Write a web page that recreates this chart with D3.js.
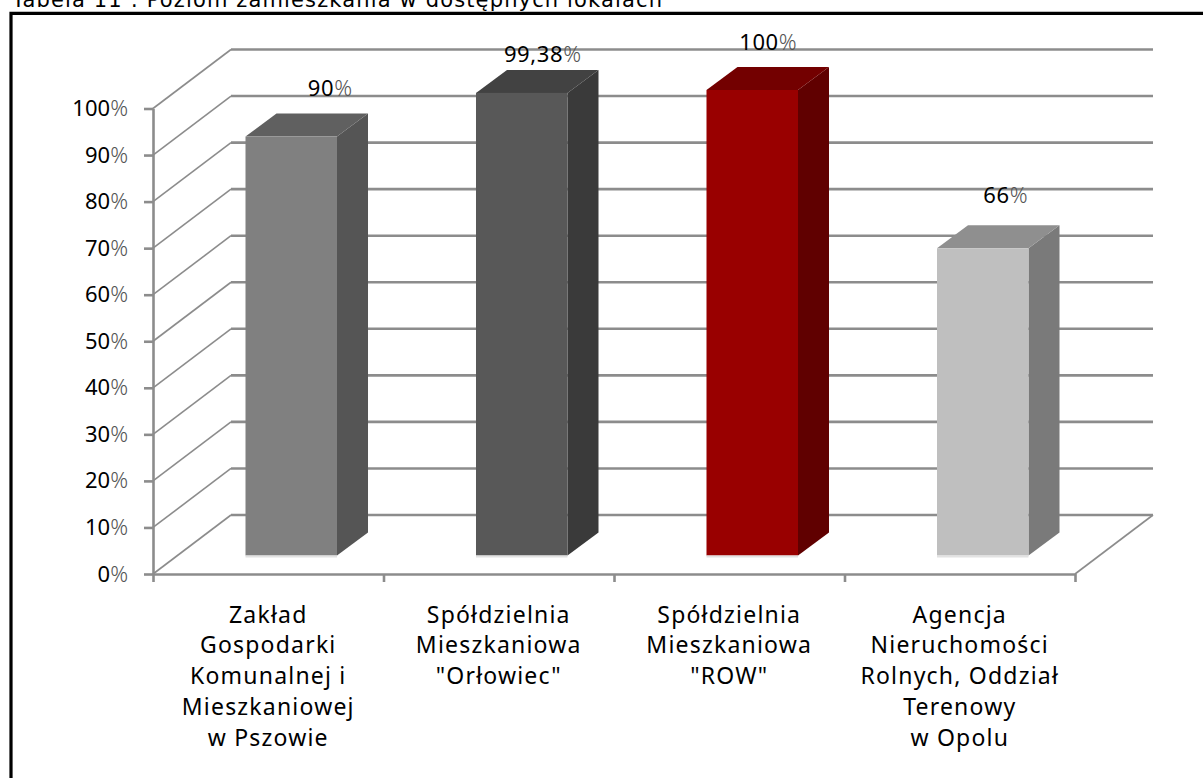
<!DOCTYPE html>
<html>
<head>
<meta charset="utf-8">
<script src="https://cdnjs.cloudflare.com/ajax/libs/d3/7.8.5/d3.min.js"></script>
<style>
  html, body { margin: 0; padding: 0; background: #fff; overflow: hidden; }
  text { font-family: "Noto Sans", sans-serif; fill: #000; }
</style>
</head>
<body>
<div id="chart"></div>
<script>
// values
const categories = [
  ["Zakład", "Gospodarki", "Komunalnej i", "Mieszkaniowej", "w Pszowie"],
  ["Spółdzielnia", "Mieszkaniowa", "\"Orłowiec\""],
  ["Spółdzielnia", "Mieszkaniowa", "\"ROW\""],
  ["Agencja", "Nieruchomości", "Rolnych, Oddział", "Terenowy", "w Opolu"]
];
const values = [90, 99.38, 100, 66];
const valueLabels = ["90", "99,38", "100", "66"];
const frontColors = ["#808080", "#585858", "#990000", "#bfbfbf"];
const topColors = ["#606060", "#424242", "#730000", "#8f8f8f"];
const sideColors = ["#555555", "#3a3a3a", "#600000", "#7a7a7a"];
const yTicks = [0, 10, 20, 30, 40, 50, 60, 70, 80, 90, 100];
const titleText = "Tabela 11 : Poziom zamieszkania w dostępnych lokalach";

const chartWidth = 1203, chartHeight = 778;
const plotLeft = 153, plotRight = 1075, plotBottom = 574, plotTop = 108.5;
// depth of the 3d box: wall offset and bar offset
const depthX = 78, depthY = 59;
const barShiftX = 23, barShiftY = 18.5, barDepthX = 31, barDepthY = 23;
const gridColor = "#8c8c8c";
const labelFont = 22;
// the value labels were moved by hand in the original, so each has its own shift
const labelShiftX = [39, 21, 16, 23];
const labelShiftY = [-41, -31, -40, -45];

const svg = d3.select("#chart").append("svg")
  .attr("width", chartWidth)
  .attr("height", chartHeight)
  .style("display", "block");

// outer frame, runs off the right and bottom of the picture
svg.append("path")
  .attr("d", "M11," + (chartHeight + 5) + "V13.4H" + (chartWidth + 5))
  .attr("fill", "none")
  .attr("stroke", "#000")
  .attr("stroke-width", 3.2);

svg.append("text")
  .attr("x", 12)
  .attr("y", 6.5)
  .attr("font-size", 21)
  .attr("textLength", 650)
  .attr("lengthAdjust", "spacing")
  .style("font-family", "'DejaVu Sans'")
  .text(titleText);

const x = d3.scaleBand()
  .domain(d3.range(categories.length))
  .range([plotLeft, plotRight])
  .paddingInner(0.603)
  .paddingOuter(0.3015);

const y = d3.scaleLinear()
  .domain([0, 100])
  .range([plotBottom, plotTop]);

// gridlines on the left wall (thin) and the back wall (heavier)
const grid = svg.append("g")
  .attr("fill", "none")
  .attr("stroke", gridColor);

grid.selectAll(".side")
  .data(yTicks)
  .enter()
  .append("path")
  .attr("class", "side")
  .attr("stroke-width", 1.6)
  .attr("d", d => "M" + plotLeft + "," + y(d) + "l" + depthX + "," + (-depthY));

grid.selectAll(".back")
  .data(yTicks)
  .enter()
  .append("path")
  .attr("class", "back")
  .attr("stroke-width", 2.6)
  .attr("d", d => "M" + (plotLeft + depthX) + "," + (y(d) - depthY) + "H" + (plotRight + depthX));

// floor edge on the right
grid.append("path")
  .attr("stroke-width", 1.6)
  .attr("d", "M" + plotRight + "," + plotBottom + "L" + (plotRight + depthX) + "," + (plotBottom - depthY));

// axes
const yAxis = d3.axisLeft(y)
  .tickValues(yTicks)
  .tickSize(9)
  .tickSizeOuter(0)
  .tickFormat("");

const yGroup = svg.append("g")
  .attr("transform", "translate(" + plotLeft + ",0)")
  .call(yAxis);

const xAxis = d3.axisBottom(d3.scaleLinear().domain([0, categories.length]).range([plotLeft, plotRight]))
  .ticks(categories.length)
  .tickSize(8)
  .tickSizeOuter(0)
  .tickFormat("");

const xGroup = svg.append("g")
  .attr("transform", "translate(0," + plotBottom + ")")
  .call(xAxis);

svg.selectAll(".domain, .tick line")
  .attr("stroke", gridColor)
  .attr("stroke-width", 2.6);

// number in black, percent sign thin and grey like the original
function percentText(sel, number) {
  sel.append("tspan").text(number);
  sel.append("tspan").style("fill", "#555").attr("font-weight", 300).text("%");
}

yGroup.selectAll(".tick")
  .append("text")
  .attr("x", -25)
  .attr("dy", "0.32em")
  .attr("text-anchor", "end")
  .attr("font-size", labelFont)
  .each(function(d) { percentText(d3.select(this), d); });

// bars, side and top first
const bars = svg.selectAll(".bar")
  .data(values)
  .enter()
  .append("g")
  .attr("class", "bar")
  .attr("transform", "translate(" + barShiftX + "," + (-barShiftY) + ")");

bars.append("path")
  .attr("fill", (d, i) => sideColors[i])
  .attr("d", (d, i) => {
    const x1 = x(i) + x.bandwidth();
    return "M" + x1 + "," + y(d) + "l" + barDepthX + "," + (-barDepthY) + "V" + (plotBottom - barDepthY) + "l" + (-barDepthX) + "," + barDepthY + "Z";
  });

bars.append("path")
  .attr("fill", (d, i) => topColors[i])
  .attr("d", (d, i) => "M" + x(i) + "," + y(d) + "l" + barDepthX + "," + (-barDepthY) + "h" + x.bandwidth() + "l" + (-barDepthX) + "," + barDepthY + "Z");

bars.append("rect")
  .attr("x", (d, i) => x(i))
  .attr("y", d => y(d))
  .attr("width", x.bandwidth())
  .attr("height", d => plotBottom - y(d))
  .attr("fill", (d, i) => frontColors[i]);

// pale strip along the foot of each bar
bars.append("rect")
  .attr("x", (d, i) => x(i))
  .attr("y", plotBottom)
  .attr("width", x.bandwidth())
  .attr("height", 2)
  .attr("fill", "#e2e2e2");

// value labels above the bars
svg.selectAll(".value")
  .data(values)
  .enter()
  .append("text")
  .attr("class", "value")
  .attr("x", (d, i) => x(i) + barShiftX + x.bandwidth() / 2 + labelShiftX[i])
  .attr("y", (d, i) => y(d) - barShiftY + labelShiftY[i])
  .attr("text-anchor", "middle")
  .attr("letter-spacing", 0.6)
  .attr("font-size", labelFont)
  .each(function(d, i) { percentText(d3.select(this), valueLabels[i]); });

// category labels, one line per row
const cats = svg.selectAll(".cat")
  .data(categories)
  .enter()
  .append("text")
  .attr("class", "cat")
  .attr("text-anchor", "middle")
  .attr("letter-spacing", 1.2)
  .attr("font-size", 23);

cats.selectAll("tspan")
  .data((d, i) => d.map(line => ({ line: line, i: i })))
  .enter()
  .append("tspan")
  .attr("x", d => x(d.i) + x.bandwidth() / 2)
  .attr("y", (d, j) => 622.5 + j * 30.8)
  .text(d => d.line);
</script>
</body>
</html>
